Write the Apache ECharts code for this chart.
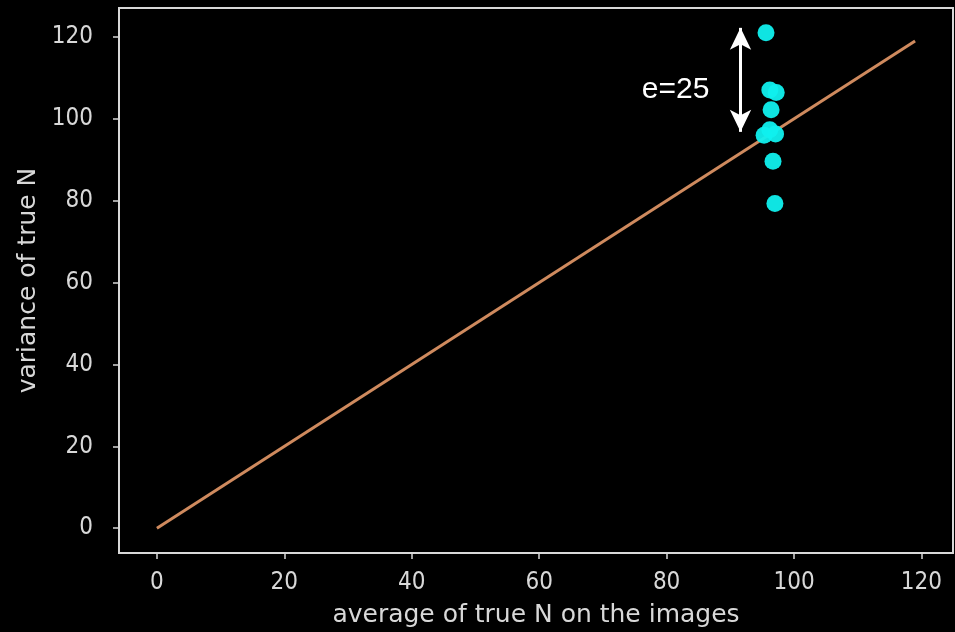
<!DOCTYPE html>
<html>
<head>
<meta charset="utf-8">
<script src="https://cdn.jsdelivr.net/npm/echarts@6/dist/echarts.min.js"></script>
<style>
html, body { margin: 0; padding: 0; background: #000; }
#chart { width: 955px; height: 632px; }
</style>
</head>
<body>
<div id="chart"></div>
<script>
// identity line y = x
const lineX = [0, 119];
const lineY = [0, 119];
// measured points (average, variance)
const avgN = [95.6, 96.2, 97.2, 96.4, 95.3, 97.1, 96.2, 96.7, 97.0];
const varN = [121.0, 107.0, 106.4, 102.2, 96.0, 96.3, 97.3, 89.6, 79.3];
// double arrow showing the spread, and its label
const arrowX = 91.6;
const arrowY = [96.8, 122.2];
const noteText = 'e=25';
const notePos = [81.4, 107.1];
const xTicks = [0, 20, 40, 60, 80, 100, 120];
const yTicks = [0, 20, 40, 60, 80, 100, 120];
const xRange = [-5.95, 124.95];
const yRange = [-6.05, 127.05];

const fg = '#d8d8d8';

let chart = echarts.init(document.getElementById('chart'));

function axisCommon(ticks) {
    return {
        type: 'value',
        axisLine: { show: true, onZero: false, lineStyle: { color: fg, width: 2 } },
        axisTick: { show: true, inside: false, length: 6, customValues: ticks, lineStyle: { color: fg, width: 1.5 } },
        axisLabel: { customValues: ticks, color: fg, fontFamily: 'DejaVu Sans Condensed', fontSize: 24 },
        splitLine: { show: false },
        nameLocation: 'middle',
        nameTextStyle: { color: fg, fontFamily: 'DejaVu Sans', fontSize: 25 },
    };
}

let xAxis = axisCommon(xTicks);
xAxis.min = xRange[0];
xAxis.max = xRange[1];
xAxis.name = 'average of true N on the images';
xAxis.nameGap = 50;
xAxis.axisLabel.margin = 18;

let yAxis = axisCommon(yTicks);
yAxis.min = yRange[0];
yAxis.max = yRange[1];
yAxis.name = 'variance of true N';
yAxis.nameGap = 78;
yAxis.axisLabel.margin = 26;

let option = {
    backgroundColor: '#000',
    animation: false,
    grid: {
        left: 119, right: 2, top: 8, bottom: 79,
        outerBoundsMode: 'none',
        containLabel: false,
        show: true, borderColor: fg, borderWidth: 2, backgroundColor: 'transparent',
    },
    xAxis: xAxis,
    yAxis: yAxis,
    series: [
        {
            type: 'line',
            data: lineX.map((x, i) => [x, lineY[i]]),
            showSymbol: false,
            symbol: 'none',
            lineStyle: { color: '#cf8a5e', width: 3 },
            z: 2,
        },
        {
            type: 'scatter',
            data: avgN.map((x, i) => [x, varN[i]]),
            symbolSize: 17,
            itemStyle: { color: '#10f0ee', opacity: 0.95 },
            z: 3,
        },
        {
            type: 'scatter',
            data: [notePos],
            symbolSize: 1,
            silent: true,
            itemStyle: { color: 'rgba(0,0,0,0)', opacity: 1 },
            label: {
                show: true,
                position: 'inside',
                formatter: noteText,
                color: '#ffffff',
                textBorderWidth: 0,
                opacity: 1,
                fontFamily: 'Liberation Sans',
                fontSize: 30,
            },
            markLine: {
                silent: true,
                symbol: ['arrow', 'arrow'],
                symbolSize: [16, 22],
                label: { show: false },
                lineStyle: { color: '#fff', width: 3, type: 'solid' },
                data: [[{ coord: [arrowX, arrowY[0]] }, { coord: [arrowX, arrowY[1]] }]],
            },
            z: 4,
        },
    ],
};
chart.setOption(option);
</script>
</body>
</html>
